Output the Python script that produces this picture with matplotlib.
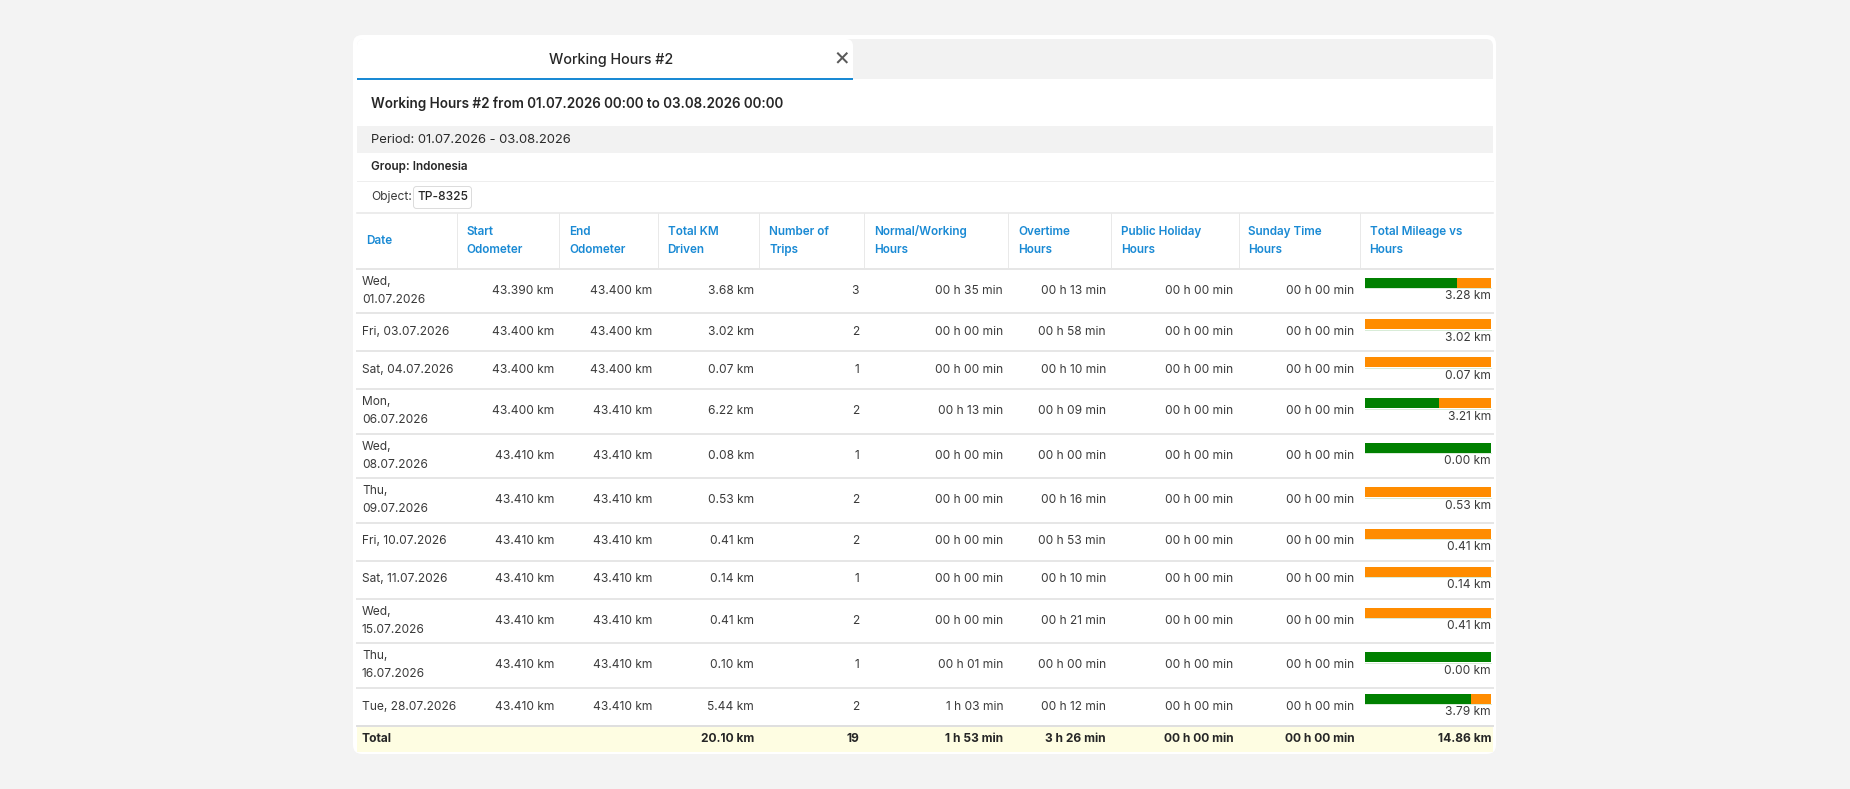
import matplotlib
matplotlib.use("Agg")
import matplotlib.pyplot as plt
from matplotlib.patches import FancyBboxPatch, Rectangle

plt.rcParams['font.family'] = ['Inter', 'DejaVu Sans']

# ---------------- data ----------------
tab_title = "Working Hours #2"
report_title = "Working Hours #2 from 01.07.2026 00:00 to 03.08.2026 00:00"
period_text = "Period: 01.07.2026 - 03.08.2026"
group_text = "Group: Indonesia"
object_label = "Object:"
object_name = "TP-8325"

headers = ["Date", "Start\nOdometer", "End\nOdometer", "Total KM\nDriven", "Number of\nTrips",
           "Normal/Working\nHours", "Overtime\nHours", "Public Holiday\nHours", "Sunday Time\nHours",
           "Total Mileage vs\nHours"]

dates = ["Wed,\n01.07.2026", "Fri, 03.07.2026", "Sat, 04.07.2026", "Mon,\n06.07.2026",
         "Wed,\n08.07.2026", "Thu,\n09.07.2026", "Fri, 10.07.2026", "Sat, 11.07.2026",
         "Wed,\n15.07.2026", "Thu,\n16.07.2026", "Tue, 28.07.2026"]
start_odometer = [43390, 43400, 43400, 43400, 43410, 43410, 43410, 43410, 43410, 43410, 43410]
end_odometer = [43400, 43400, 43400, 43410, 43410, 43410, 43410, 43410, 43410, 43410, 43410]
km_driven = [3.68, 3.02, 0.07, 6.22, 0.08, 0.53, 0.41, 0.14, 0.41, 0.10, 5.44]
trips = [3, 2, 1, 2, 1, 2, 2, 1, 2, 1, 2]
normal_min = [35, 0, 0, 13, 0, 0, 0, 0, 0, 1, 63]
overtime_min = [13, 58, 10, 9, 0, 16, 53, 10, 21, 0, 12]
holiday_min = [0, 0, 0, 0, 0, 0, 0, 0, 0, 0, 0]
sunday_min = [0, 0, 0, 0, 0, 0, 0, 0, 0, 0, 0]
mileage_km = [3.28, 3.02, 0.07, 3.21, 0.00, 0.53, 0.41, 0.14, 0.41, 0.00, 3.79]

total_label = "Total"
total_km = 20.10
total_trips = 19
total_normal_min = 113
total_overtime_min = 206
total_holiday_min = 0
total_sunday_min = 0
total_mileage = 14.86

# ---------------- helpers ----------------
def fmt_odo(v):
    return f"{v:,}".replace(",", ".") + " km"

def fmt_km(v):
    return f"{v:.2f} km"

def fmt_hm(m):
    h, mm = divmod(m, 60)
    hs = "00" if h == 0 else str(h)
    return f"{hs} h {mm:02d} min"

W, H = 1850, 789
fig = plt.figure(figsize=(W / 100, H / 100), dpi=100)
fig.patch.set_facecolor('#f3f3f3')
ax = fig.add_axes([0, 0, 1, 1])
ax.set_xlim(0, W)
ax.set_ylim(H, 0)
ax.axis('off')

PX = 0.72  # px -> pt
TXT = '#3a3a3a'
DARK = '#262626'
BLUE = '#1a8ad4'
LINE = '#e6e6e6'
GREEN = '#008000'
ORANGE = '#ff8c00'

# card
ax.add_patch(FancyBboxPatch((353, 35), 1143, 719, boxstyle="round,pad=0,rounding_size=9",
                            fc='white', ec='none', zorder=0))
L, R = 357, 1493

# tab bar
ax.add_patch(FancyBboxPatch((L, 39), R - L, 40, boxstyle="round,pad=0,rounding_size=7",
                            fc='#f2f2f2', ec='none', zorder=1))
ax.add_patch(Rectangle((L, 60), R - L, 19, fc='#f2f2f2', ec='none', zorder=1))
ax.add_patch(FancyBboxPatch((L, 39), 853 - L, 40, boxstyle="round,pad=0,rounding_size=7",
                            fc='white', ec='none', zorder=2))
ax.add_patch(Rectangle((L, 60), 853 - L, 19, fc='white', ec='none', zorder=2))
ax.plot([L, 853], [78.5, 78.5], color=BLUE, lw=2 * PX, zorder=3, solid_capstyle='butt')
ax.text(611, 59.5, tab_title, ha='center', va='center', fontsize=14.3 * PX, color=DARK,
        fontweight='medium', zorder=4)
ax.text(842, 57.5, "\u00d7", ha='center', va='center', fontsize=25 * PX, color='#5a5a5a', zorder=4)

# title
ax.text(371, 103.5, report_title, ha='left', va='center', fontsize=13.5 * PX, color=DARK,
        fontweight='semibold')

# period band
ax.add_patch(Rectangle((L, 126), R - L, 27, fc='#f2f2f2', ec='none', zorder=1))
ax.text(371, 139.5, period_text, ha='left', va='center', fontsize=13 * PX, color='#2a2a2a', zorder=2)

# group
ax.text(371, 166.5, group_text, ha='left', va='center', fontsize=11.7 * PX, color=DARK,
        fontweight='semibold')
ax.plot([L, R], [180.5, 180.5], color='#eeeeee', lw=1 * PX)

# object
ax.text(371, 197, object_label, ha='left', va='center', fontsize=12 * PX, color=TXT)
ax.add_patch(FancyBboxPatch((413.5, 186.5), 58, 22, boxstyle="round,pad=0,rounding_size=3",
                            fc='white', ec='#dcdcdc', lw=1 * PX))
ax.text(442.5, 197, object_name, ha='center', va='center', fontsize=12 * PX, color=DARK,
        fontweight='medium')

# table header
col_edges = [357, 456.5, 559, 657.5, 759, 864, 1008, 1111, 1238.5, 1359.5, 1493]
HT, HB = 213, 268.5
ax.plot([L, R], [HT, HT], color=LINE, lw=1.5 * PX)
for x in col_edges[1:-1]:
    ax.plot([x, x], [HT, HB], color='#e9e9e9', lw=1 * PX)
for i, htxt in enumerate(headers):
    x = col_edges[i] + (9 if i == 0 else 10)
    ax.text(x, (HT + HB) / 2, htxt, ha='left', va='center', fontsize=11.7 * PX, color=BLUE,
            fontweight='semibold', linespacing=1.65)
ax.plot([L, R], [HB, HB], color=LINE, lw=2 * PX)

# rows
BAR_L, BAR_W = 1365, 126
y = HB
fs = 12 * PX
for i in range(len(dates)):
    h = 44.5 if "\n" in dates[i] else 38
    cy = y + h / 2
    ax.text(362, cy, dates[i], ha='left', va='center', fontsize=fs, color=TXT, linespacing=1.7)
    vals = [fmt_odo(start_odometer[i]), fmt_odo(end_odometer[i]), fmt_km(km_driven[i]),
            str(trips[i]), fmt_hm(normal_min[i]), fmt_hm(overtime_min[i]),
            fmt_hm(holiday_min[i]), fmt_hm(sunday_min[i])]
    for j, v in enumerate(vals):
        ax.text(col_edges[j + 2] - 5, cy, v, ha='right', va='center', fontsize=fs, color=TXT)
    # mileage vs hours bar
    tot = normal_min[i] + overtime_min[i]
    share = 1.0 if tot == 0 else normal_min[i] / tot
    by = cy - 8
    ax.barh([by], [share * BAR_W], left=BAR_L, height=10, color=GREEN, zorder=3)
    ax.barh([by], [(1 - share) * BAR_W], left=BAR_L + share * BAR_W, height=10, color=ORANGE, zorder=3)
    ax.plot([BAR_L, BAR_L + BAR_W], [by + 5.5, by + 5.5], color='#d8ecd8', lw=1 * PX, zorder=2)
    ax.text(BAR_L + BAR_W, cy + 5.5, fmt_km(mileage_km[i]), ha='right', va='center', fontsize=fs,
            color=TXT)
    y += h
    ax.plot([L, R], [y, y], color=LINE, lw=2 * PX)

# total row
ax.add_patch(Rectangle((L, y), R - L, 26.5, fc='#fefde2', ec='none', zorder=0.5))
ax.plot([L, R], [y, y], color='#dddddd', lw=1.5 * PX)
cy = y + 13
ax.text(362, cy, total_label, ha='left', va='center', fontsize=fs, color=DARK, fontweight='bold')
tvals = [fmt_km(total_km), str(total_trips), fmt_hm(total_normal_min), fmt_hm(total_overtime_min),
         fmt_hm(total_holiday_min), fmt_hm(total_sunday_min), fmt_km(total_mileage)]
tcols = [4, 5, 6, 7, 8, 9, 10]
for v, c in zip(tvals, tcols):
    xr = col_edges[c] - 5 if c < 10 else BAR_L + BAR_W
    ax.text(xr, cy, v, ha='right', va='center', fontsize=fs, color=DARK, fontweight='bold')

fig.savefig("out.png", dpi=100, facecolor=fig.get_facecolor())
